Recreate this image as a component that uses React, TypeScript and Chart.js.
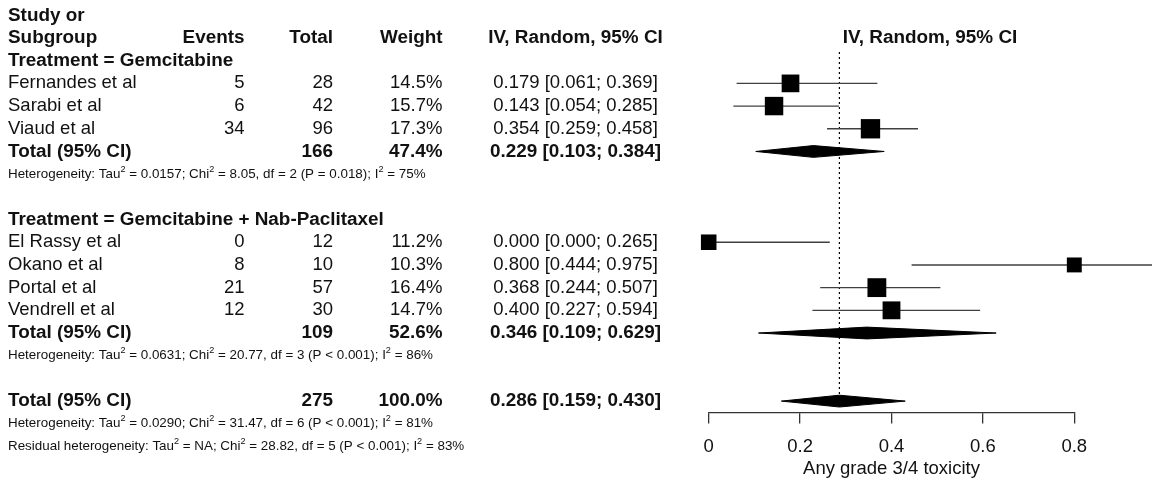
import React, { useEffect, useRef } from 'react';
import { Chart, registerables } from 'chart.js';

Chart.register(...registerables);

// ---------------- data ----------------
const subgroupLabels = ['Treatment = Gemcitabine', 'Treatment = Gemcitabine + Nab-Paclitaxel'];
const studyNames = ['Fernandes et al', 'Sarabi et al', 'Viaud et al', 'El Rassy et al', 'Okano et al', 'Portal et al', 'Vendrell et al'];
const studyGroup = [0, 0, 0, 1, 1, 1, 1];
const studyEvents = [5, 6, 34, 0, 8, 21, 12];
const studyTotals = [28, 42, 96, 12, 10, 57, 30];
const studyWeights = [14.5, 15.7, 17.3, 11.2, 10.3, 16.4, 14.7];
const studyEst = [0.179, 0.143, 0.354, 0.0, 0.8, 0.368, 0.4];
const studyLower = [0.061, 0.054, 0.259, 0.0, 0.444, 0.244, 0.227];
const studyUpper = [0.369, 0.285, 0.458, 0.265, 0.975, 0.507, 0.594];

const subgroupTotals = [166, 109];
const subgroupWeights = [47.4, 52.6];
const subgroupEst = [0.229, 0.346];
const subgroupLower = [0.103, 0.109];
const subgroupUpper = [0.384, 0.629];
const subgroupHet = [
  'Heterogeneity: Tau^2 = 0.0157; Chi^2 = 8.05, df = 2 (P = 0.018); I^2 = 75%',
  'Heterogeneity: Tau^2 = 0.0631; Chi^2 = 20.77, df = 3 (P < 0.001); I^2 = 86%',
];

const overallLabel = 'Total (95% CI)';
const overallTotal = 275;
const overallWeight = 100.0;
const overallEst = 0.286;
const overallLower = 0.159;
const overallUpper = 0.43;
const overallHet = [
  'Heterogeneity: Tau^2 = 0.0290; Chi^2 = 31.47, df = 6 (P < 0.001); I^2 = 81%',
  'Residual heterogeneity: Tau^2 = NA; Chi^2 = 28.82, df = 5 (P < 0.001); I^2 = 83%',
];

const headerTop = ['Study or'];
const headerCols = ['Subgroup', 'Events', 'Total', 'Weight', 'IV, Random, 95% CI'];
const plotHeader = 'IV, Random, 95% CI';
const xTickValues = [0, 0.2, 0.4, 0.6, 0.8];
const xTitle = 'Any grade 3/4 toxicity';

// ---------------- row layout ----------------
type Row =
  | { kind: 'study'; i: number; r: number }
  | { kind: 'group'; g: number; r: number }
  | { kind: 'subtotal'; g: number; r: number }
  | { kind: 'het'; text: string; r: number }
  | { kind: 'overall'; r: number };

const rows: Row[] = [];
const studyRow: number[] = [];
const subgroupRow: number[] = [];
let rr = 2;
subgroupLabels.forEach((_, g) => {
  rows.push({ kind: 'group', g, r: rr++ });
  studyNames.forEach((_, i) => {
    if (studyGroup[i] === g) {
      studyRow[i] = rr;
      rows.push({ kind: 'study', i, r: rr++ });
    }
  });
  subgroupRow[g] = rr;
  rows.push({ kind: 'subtotal', g, r: rr++ });
  rows.push({ kind: 'het', text: subgroupHet[g], r: rr++ });
  rr++;
});
const overallRow = rr;
rows.push({ kind: 'overall', r: rr++ });
overallHet.forEach((t) => rows.push({ kind: 'het', text: t, r: rr++ }));

// ---------------- styling ----------------
const FONT = '"Liberation Sans", Arial, Helvetica, sans-serif';
const MAIN = 18.5;
const BOLD = 18.9;
const SMALL = 13.4;
const TXT = '#111';
const NAME_X = 8;
const EVENTS_R = 244.5;
const TOTAL_R = 333;
const WEIGHT_R = 442.5;
const CI_C = 575.5;
const PLOT_HDR_C = 930;
const DIAMOND_H = 0.26;

const fmtCI = (e: number, l: number, u: number) => `${e.toFixed(3)} [${l.toFixed(3)}; ${u.toFixed(3)}]`;
const fmtW = (w: number) => `${w.toFixed(1)}%`;

function txt(ctx: CanvasRenderingContext2D, s: string, x: number, y: number, align: CanvasTextAlign, bold: boolean) {
  ctx.font = bold ? `bold ${BOLD}px ${FONT}` : `${MAIN}px ${FONT}`;
  ctx.textAlign = align;
  ctx.textBaseline = 'middle';
  ctx.fillStyle = TXT;
  ctx.fillText(s, x, y);
}

function supText(ctx: CanvasRenderingContext2D, s: string, x: number, y: number) {
  const parts = s.split('^2');
  let cx = x;
  ctx.textAlign = 'left';
  ctx.textBaseline = 'middle';
  ctx.fillStyle = TXT;
  parts.forEach((p, k) => {
    ctx.font = `${SMALL}px ${FONT}`;
    ctx.fillText(p, cx, y);
    cx += ctx.measureText(p).width;
    if (k < parts.length - 1) {
      ctx.font = `${SMALL * 0.68}px ${FONT}`;
      ctx.fillText('2', cx, y - 5);
      cx += ctx.measureText('2').width;
    }
  });
}

const tablePlugin = {
  id: 'forestTable',
  afterDraw(chart: any) {
    const ctx: CanvasRenderingContext2D = chart.ctx;
    const ys = chart.scales.y;
    const P = (r: number) => ys.getPixelForValue(r);
    ctx.save();
    txt(ctx, headerTop[0], NAME_X, P(0), 'left', true);
    const y1 = P(1);
    txt(ctx, headerCols[0], NAME_X, y1, 'left', true);
    txt(ctx, headerCols[1], EVENTS_R, y1, 'right', true);
    txt(ctx, headerCols[2], TOTAL_R, y1, 'right', true);
    txt(ctx, headerCols[3], WEIGHT_R, y1, 'right', true);
    txt(ctx, headerCols[4], CI_C, y1, 'center', true);
    txt(ctx, plotHeader, PLOT_HDR_C, y1, 'center', true);
    rows.forEach((row) => {
      const y = P(row.r);
      if (row.kind === 'group') {
        txt(ctx, subgroupLabels[row.g], NAME_X, y, 'left', true);
      } else if (row.kind === 'study') {
        const i = row.i;
        txt(ctx, studyNames[i], NAME_X, y, 'left', false);
        txt(ctx, String(studyEvents[i]), EVENTS_R, y, 'right', false);
        txt(ctx, String(studyTotals[i]), TOTAL_R, y, 'right', false);
        txt(ctx, fmtW(studyWeights[i]), WEIGHT_R, y, 'right', false);
        txt(ctx, fmtCI(studyEst[i], studyLower[i], studyUpper[i]), CI_C, y, 'center', false);
      } else if (row.kind === 'subtotal') {
        const g = row.g;
        txt(ctx, overallLabel, NAME_X, y, 'left', true);
        txt(ctx, String(subgroupTotals[g]), TOTAL_R, y, 'right', true);
        txt(ctx, fmtW(subgroupWeights[g]), WEIGHT_R, y, 'right', true);
        txt(ctx, fmtCI(subgroupEst[g], subgroupLower[g], subgroupUpper[g]), CI_C, y, 'center', true);
      } else if (row.kind === 'overall') {
        txt(ctx, overallLabel, NAME_X, y, 'left', true);
        txt(ctx, String(overallTotal), TOTAL_R, y, 'right', true);
        txt(ctx, fmtW(overallWeight), WEIGHT_R, y, 'right', true);
        txt(ctx, fmtCI(overallEst, overallLower, overallUpper), CI_C, y, 'center', true);
      } else if (row.kind === 'het') {
        supText(ctx, row.text, NAME_X, y);
      }
    });
    ctx.restore();
  },
};

const diamond = (e: number, l: number, u: number, r: number) => [
  { x: l, y: r },
  { x: e, y: r - DIAMOND_H },
  { x: u, y: r },
  { x: e, y: r + DIAMOND_H },
  { x: l, y: r },
];

export default function App() {
  const ref = useRef<HTMLCanvasElement>(null);
  useEffect(() => {
    document.body.style.margin = '0';
    const datasets: any[] = [];
    // squares (size from weight)
    datasets.push({
      type: 'scatter',
      data: studyEst.map((e, i) => ({ x: e, y: studyRow[i] })),
      pointStyle: 'rect',
      pointRadius: (c: any) => (4.65 * Math.sqrt(studyWeights[c.dataIndex])) / Math.SQRT2,
      pointBackgroundColor: '#000',
      pointBorderWidth: 0,
      showLine: false,
      clip: false,
      order: 0,
    });
    // diamonds
    subgroupEst.forEach((e, g) => {
      datasets.push({
        type: 'line',
        data: diamond(e, subgroupLower[g], subgroupUpper[g], subgroupRow[g]),
        borderColor: '#000',
        backgroundColor: '#000',
        borderWidth: 1,
        fill: 'shape',
        pointRadius: 0,
        tension: 0,
        clip: false,
        order: 1,
      });
    });
    datasets.push({
      type: 'line',
      data: diamond(overallEst, overallLower, overallUpper, overallRow),
      borderColor: '#000',
      backgroundColor: '#000',
      borderWidth: 1,
      fill: 'shape',
      pointRadius: 0,
      tension: 0,
      clip: false,
      order: 1,
    });
    // CI lines
    studyEst.forEach((_, i) => {
      datasets.push({
        type: 'line',
        data: [
          { x: studyLower[i], y: studyRow[i] },
          { x: studyUpper[i], y: studyRow[i] },
        ],
        borderColor: '#404040',
        borderWidth: 1.4,
        pointRadius: 0,
        fill: false,
        clip: false,
        order: 2,
      });
    });
    // reference line at overall estimate
    datasets.push({
      type: 'line',
      data: [
        { x: overallEst, y: 1.62 },
        { x: overallEst, y: overallRow },
      ],
      borderColor: '#000',
      borderWidth: 1.2,
      borderDash: [2, 3],
      pointRadius: 0,
      fill: false,
      clip: false,
      order: 3,
    });

    const chart = new Chart(ref.current as HTMLCanvasElement, {
      type: 'line',
      data: { datasets },
      options: {
        animation: false,
        responsive: false,
        events: [],
        layout: { padding: { left: 708.7, right: 77.7, top: 15.3, bottom: 0 } },
        plugins: { legend: { display: false }, tooltip: { enabled: false }, title: { display: false } },
        scales: {
          x: {
            type: 'linear',
            min: 0,
            max: 0.8,
            afterBuildTicks: (s: any) => {
              s.ticks = xTickValues.map((v) => ({ value: v }));
            },
            grid: { display: true, drawOnChartArea: false, drawTicks: true, tickLength: 11, color: '#333', lineWidth: 1.3 },
            border: { display: true, color: '#333', width: 1.3 },
            ticks: {
              padding: 12.3,
              color: TXT,
              font: { family: FONT, size: MAIN },
              maxRotation: 0,
              callback: (v: any) => String(v),
            },
            title: {
              display: true,
              text: xTitle,
              color: TXT,
              font: { family: FONT, size: MAIN },
              padding: { top: -12.45, bottom: 1 },
            },
          },
          y: {
            type: 'linear',
            display: false,
            reverse: true,
            min: 0,
            max: 17.5,
          },
        },
      },
      plugins: [tablePlugin],
    });
    return () => chart.destroy();
  }, []);
  return (
    <div style={{ width: 1152, height: 481, position: 'relative', background: '#fff' }}>
      <canvas ref={ref} width={1152} height={481} style={{ display: 'block' }} />
    </div>
  );
}
